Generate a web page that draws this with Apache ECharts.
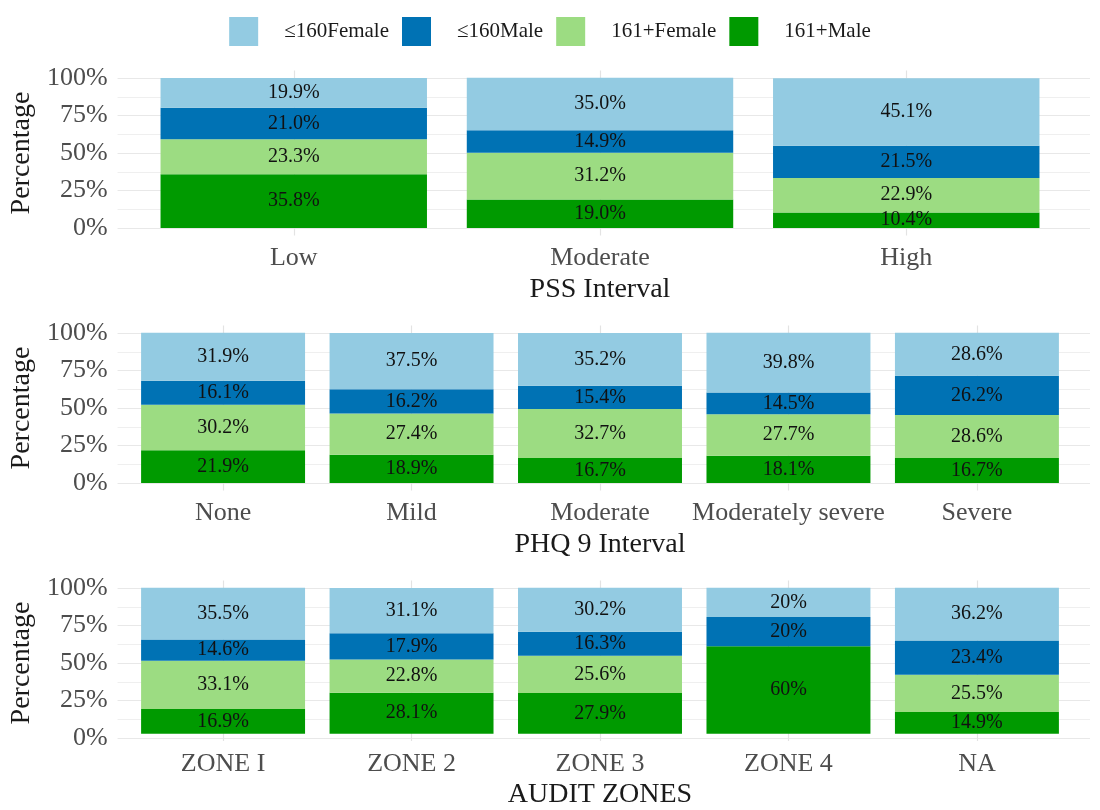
<!DOCTYPE html>
<html>
<head>
<meta charset="utf-8">
<script src="https://cdn.jsdelivr.net/npm/echarts@6/dist/echarts.min.js"></script>
<style>html,body{margin:0;padding:0;background:#fff}#c{width:1100px;height:810px}</style>
</head>
<body>
<div id="c"></div>
<script>
// ---- data ----
const legendNames = ['≤160Female', '≤160Male', '161+Female', '161+Male'];

const pssCategories = ['Low', 'Moderate', 'High'];
const pssFemale160 = [19.9, 35.0, 45.1];
const pssMale160   = [21.0, 14.9, 21.5];
const pssFemale161 = [23.3, 31.2, 22.9];
const pssMale161   = [35.8, 19.0, 10.4];

const phqCategories = ['None', 'Mild', 'Moderate', 'Moderately severe', 'Severe'];
const phqFemale160 = [31.9, 37.5, 35.2, 39.8, 28.6];
const phqMale160   = [16.1, 16.2, 15.4, 14.5, 26.2];
const phqFemale161 = [30.2, 27.4, 32.7, 27.7, 28.6];
const phqMale161   = [21.9, 18.9, 16.7, 18.1, 16.7];

const auditCategories = ['ZONE I', 'ZONE 2', 'ZONE 3', 'ZONE 4', 'NA'];
const auditFemale160 = [35.5, 31.1, 30.2, 20, 36.2];
const auditMale160   = [14.6, 17.9, 16.3, 20, 23.4];
const auditFemale161 = [33.1, 22.8, 25.6, 0, 25.5];
const auditMale161   = [16.9, 28.1, 27.9, 60, 14.9];
const auditDecimals  = [1, 1, 1, 0, 1];

// ---- styling / layout ----
const FONT = 'Liberation Serif';
const colorMap = {
  '≤160Female': '#93CBE2',
  '≤160Male': '#0072B4',
  '161+Female': '#9CDC82',
  '161+Male': '#009A00'
};
const panels = [
  { cats: pssCategories, title: 'PSS Interval', top: 78,
    data: { '161+Male': pssMale161, '161+Female': pssFemale161, '≤160Male': pssMale160, '≤160Female': pssFemale160 },
    dec: null },
  { cats: phqCategories, title: 'PHQ 9 Interval', top: 333,
    data: { '161+Male': phqMale161, '161+Female': phqFemale161, '≤160Male': phqMale160, '≤160Female': phqFemale160 },
    dec: null },
  { cats: auditCategories, title: 'AUDIT ZONES', top: 588,
    data: { '161+Male': auditMale161, '161+Female': auditFemale161, '≤160Male': auditMale160, '≤160Female': auditFemale160 },
    dec: auditDecimals }
];
const stackOrder = ['161+Male', '161+Female', '≤160Male', '≤160Female'];
const PL = 110, PW = 980, PH = 150, EXP = 7.5;

const grids = [], xAxes = [], yAxes = [], series = [];
panels.forEach((p, i) => {
  const n = p.cats.length;
  const unit = PW / (n + 0.2);
  // background grid (gridlines + y labels)
  grids.push({ left: PL, top: p.top, width: PW, height: PH });
  xAxes.push({ gridIndex: 2 * i, type: 'value', min: 0, max: 1, show: false });
  yAxes.push({
    gridIndex: 2 * i, type: 'value', min: 0, max: 100, interval: 25,
    axisLine: { show: false }, axisTick: { show: false },
    axisLabel: { formatter: v => v + '%', fontFamily: FONT, fontSize: 26, color: '#4D4D4D', margin: 10 },
    splitLine: { show: true, lineStyle: { color: '#E8E8E8', width: 1.2 } },
    minorTick: { show: false, splitNumber: 2 },
    minorSplitLine: { show: true, lineStyle: { color: '#EFEFEF', width: 1 } },
    name: 'Percentage', nameLocation: 'middle', nameRotate: 90, nameGap: 74,
    nameTextStyle: { fontFamily: FONT, fontSize: 28, color: '#1A1A1A' }
  });
  // bar grid
  grids.push({ left: PL + 0.1 * unit, top: p.top - EXP, width: n * unit, height: PH + 2 * EXP });
  xAxes.push({
    gridIndex: 2 * i + 1, type: 'category', data: p.cats,
    axisLine: { show: false, onZero: false }, axisTick: { show: false }, splitLine: { show: false },
    axisLabel: { fontFamily: FONT, fontSize: 26, color: '#4D4D4D', margin: 10, interval: 0 },
    name: p.title, nameLocation: 'middle', nameGap: 40,
    nameTextStyle: { fontFamily: FONT, fontSize: 28, color: '#1A1A1A' }
  });
  yAxes.push({ gridIndex: 2 * i + 1, type: 'value', min: -5, max: 105, show: false });
  stackOrder.forEach((name, k) => {
    const s = {
      name, type: 'bar', stack: 'p' + i,
      xAxisIndex: 2 * i + 1, yAxisIndex: 2 * i + 1,
      barWidth: '87%',
      itemStyle: { color: colorMap[name] },
      data: p.data[name],
      label: {
        show: true, position: 'inside', fontFamily: FONT, fontSize: 20, color: '#111',
        formatter: prm => {
          if (!prm.value) return '';
          const d = p.dec ? p.dec[prm.dataIndex] : 1;
          return prm.value.toFixed(d) + '%';
        }
      }
    };
    if (k === 0) {
      s.markLine = {
        silent: true, symbol: ['none', 'none'], animation: false, z: 1,
        label: { show: false },
        lineStyle: { color: '#E3E3E3', width: 1.2, type: 'solid' },
        data: p.cats.map((c, ci) => ({ xAxis: ci }))
      };
    }
    series.push(s);
  });
});

const chart = echarts.init(document.getElementById('c'), null, { renderer: 'canvas' });
chart.setOption({
  animation: false,
  backgroundColor: '#fff',
  legend: {
    data: legendNames, top: 17, left: 'center', padding: 0,
    icon: 'rect', itemWidth: 29, itemHeight: 29, itemGap: 13,
    textStyle: { fontFamily: FONT, fontSize: 21, color: '#1A1A1A', padding: [0, 0, 0, 21] }
  },
  grid: grids, xAxis: xAxes, yAxis: yAxes, series
});
</script>
</body>
</html>
